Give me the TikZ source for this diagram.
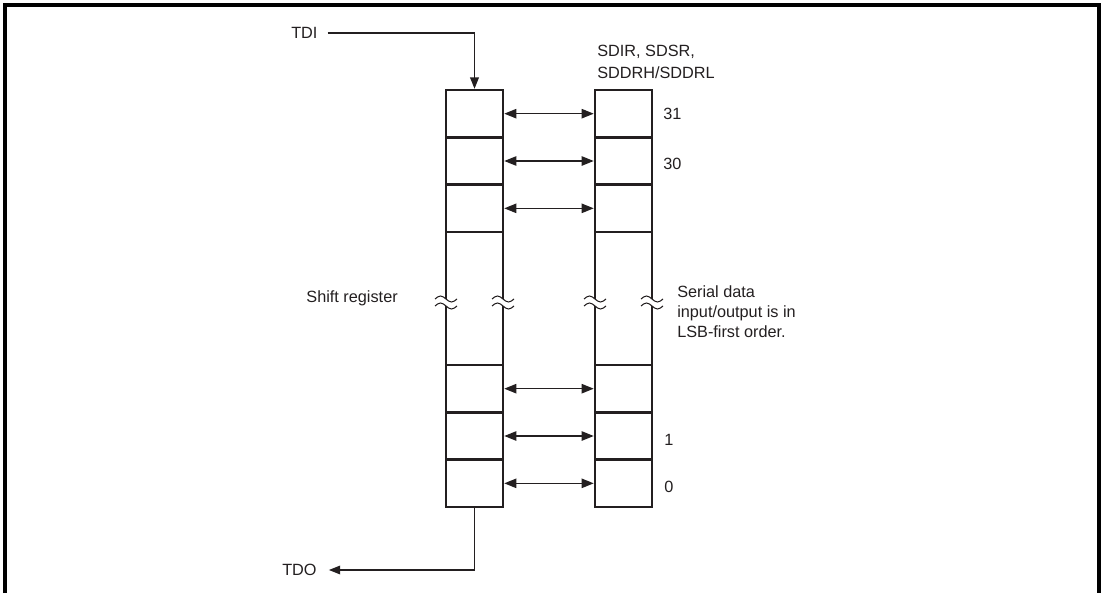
\documentclass[tikz,border=0pt]{standalone}
\usepackage{fontspec}
\setmainfont{Liberation Sans}
\usetikzlibrary{arrows.meta,calc}
\definecolor{ink}{HTML}{231F20}
\begin{document}
\begin{tikzpicture}[x=0.75pt,y=-0.75pt,
  cell/.style={draw=ink,line width=1.9pt,minimum width=42.75pt,minimum height=35.5pt,inner sep=0pt,outer sep=0pt},
  side/.style={draw=ink,line width=1.6pt},
  wave/.style={draw=ink,line width=0.8pt},
  link/.style={draw=ink,line width=1pt,shorten <=0.95pt,shorten >=0.95pt,{Triangle[length=9pt,width=7pt]}-{Triangle[length=9pt,width=7pt]}},
  feed/.style={draw=ink,line width=1pt,-{Triangle[length=8.5pt,width=6.5pt]}},
  lbl/.style={text=ink,inner sep=0pt,font=\fontsize{12.2}{15}\selectfont,align=left}]
\useasboundingbox (0,0) rectangle (1103,593);
\draw[line width=2.3pt] (5,593) -- (5,5) -- (1099,5) -- (1099,593);
% left column (shift register)
\node[cell] (L1) at (474.5,113.67) {};
\node[cell] (L2) at (474.5,161) {};
\node[cell] (L3) at (474.5,208.33) {};
\node[cell] (L4) at (474.5,388.67) {};
\node[cell] (L5) at (474.5,436) {};
\node[cell] (L6) at (474.5,483.33) {};
% right column
\node[cell] (R1) at (623.5,113.67) {};
\node[cell] (R2) at (623.5,161) {};
\node[cell] (R3) at (623.5,208.33) {};
\node[cell] (R4) at (623.5,388.67) {};
\node[cell] (R5) at (623.5,436) {};
\node[cell] (R6) at (623.5,483.33) {};
% tall section with breaks
\foreach \c/\a in {L3/south west,L3/south east,R3/south west,R3/south east}{
  \draw[side] (\c.\a) -- ++(0,67);
  \draw[wave] ($(\c.\a)+(-11,67)$) sin ++(5.5,-3) cos ++(5.5,3) sin ++(5.5,3) cos ++(5.5,-3);
  \draw[wave] ($(\c.\a)+(-11,74)$) sin ++(5.5,-3) cos ++(5.5,3) sin ++(5.5,3) cos ++(5.5,-3);
}
\foreach \c/\a in {L4/north west,L4/north east,R4/north west,R4/north east}{
  \draw[side] (\c.\a) -- ++(0,-59);
}
% links
\foreach \i in {1,2,3,4,5,6}{
  \draw[link] (L\i.east) -- (R\i.west);
}
% TDI / TDO
\node[lbl,anchor=west] (tdi) at (291,33) {TDI};
\node[lbl,anchor=west] (tdo) at (282,570) {TDO};
\draw[feed] ([xshift=7.5pt]tdi.east) -| ([yshift=0.9pt]L1.north);
\draw[feed] (L6.south) |- ([xshift=9pt]tdo.east);
% labels
\node[lbl,anchor=west,font=\fontsize{12.2}{16.5}\selectfont] (regs) at (597,62) {SDIR, SDSR,\\SDDRH/SDDRL};
\node[lbl,anchor=west] (b31) at (663,114) {31};
\node[lbl,anchor=west] (b30) at (663,164) {30};
\node[lbl,anchor=west] (b1) at (664,440) {1};
\node[lbl,anchor=west] (b0) at (664,487) {0};
\node[lbl,anchor=east] (shift) at (398,298) {Shift register};
\node[lbl,anchor=west] (serial) at (677,312) {Serial data\\input/output is in\\LSB-first order.};
\end{tikzpicture}
\end{document}
